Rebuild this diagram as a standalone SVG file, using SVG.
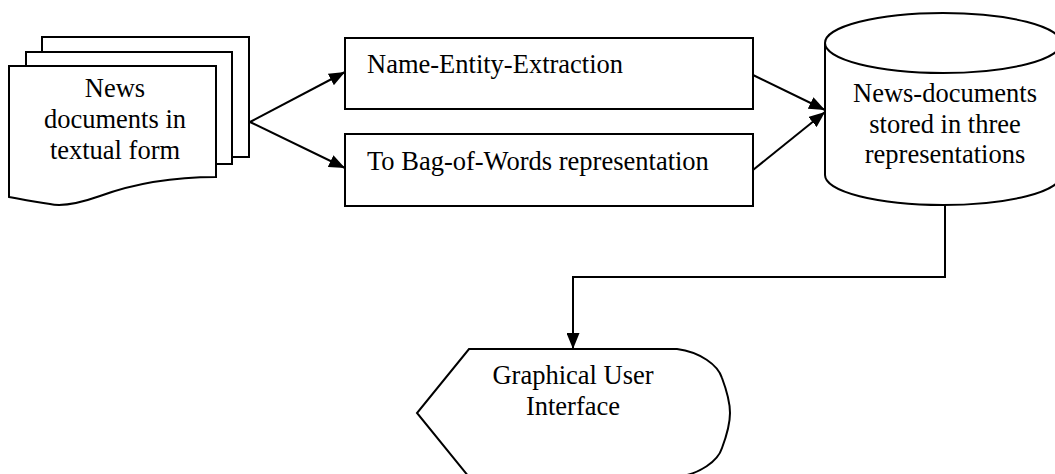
<svg xmlns="http://www.w3.org/2000/svg" width="1055" height="474" viewBox="0 0 1055 474">
  <style>
    .shape { fill: #fff; stroke: #000; stroke-width: 2; stroke-linejoin: miter; }
    .edge { fill: none; stroke: #000; stroke-width: 2; }
    .label { font-family: "Liberation Serif", "Times New Roman", serif; font-size: 26.5px; fill: #000; }
    .mid { text-anchor: middle; }
  </style>
  <defs>
    <marker id="arrow" viewBox="0 0 16 13" refX="16" refY="6.5" markerWidth="16" markerHeight="13" markerUnits="userSpaceOnUse" orient="auto">
      <path d="M0,0 L16,6.5 L0,13 Z" fill="#000"/>
    </marker>
  </defs>
  <rect width="1055" height="474" fill="#fff"/>

  <!-- stacked news documents -->
  <g id="news-docs">
    <path class="shape" d="M42,52 V37 H249 V157 H232"/>
    <path class="shape" d="M26,66 V52 H232 V164 H216"/>
    <path class="shape" d="M9,66 H216 V177 C170,177 130,185 100,196 C80,203 62,207 50,204 C35,202 20,199 9,197 Z"/>
    <text class="label mid" x="115" y="97">News</text>
    <text class="label mid" x="115" y="128">documents in</text>
    <text class="label mid" x="115" y="159">textual form</text>
  </g>

  <!-- processing steps -->
  <g id="ner">
    <rect class="shape" x="345" y="38" width="408" height="71"/>
    <text class="label" x="367" y="73">Name-Entity-Extraction</text>
  </g>
  <g id="bow">
    <rect class="shape" x="345" y="134" width="408" height="72"/>
    <text class="label" x="367" y="170">To Bag-of-Words representation</text>
  </g>

  <!-- document store -->
  <g id="store">
    <path class="shape" d="M825,43 V175 A118,30 0 0 0 1061,175 V43"/>
    <ellipse class="shape" cx="943" cy="43" rx="118" ry="30"/>
    <text class="label mid" x="945" y="102">News-documents</text>
    <text class="label mid" x="945" y="133">stored in three</text>
    <text class="label mid" x="945" y="163">representations</text>
  </g>

  <!-- user interface (display shape) -->
  <g id="gui">
    <path class="shape" d="M469,349 H677 C700,352 718,365 722,378 C728,394 730,405 730,413 C730,421 728,432 722,448 C718,461 700,474 677,477 H469 L417,413 Z"/>
    <text class="label mid" x="573" y="384">Graphical User</text>
    <text class="label mid" x="573" y="415">Interface</text>
  </g>

  <!-- connectors -->
  <g id="connectors">
    <path class="edge" d="M250,122 L345,72" marker-end="url(#arrow)"/>
    <path class="edge" d="M250,122 L345,168" marker-end="url(#arrow)"/>
    <path class="edge" d="M753,75 L825,110" marker-end="url(#arrow)"/>
    <path class="edge" d="M753,170 L825,112" marker-end="url(#arrow)"/>
    <path class="edge" d="M945,205 V277 H573 V349" marker-end="url(#arrow)"/>
  </g>
</svg>
